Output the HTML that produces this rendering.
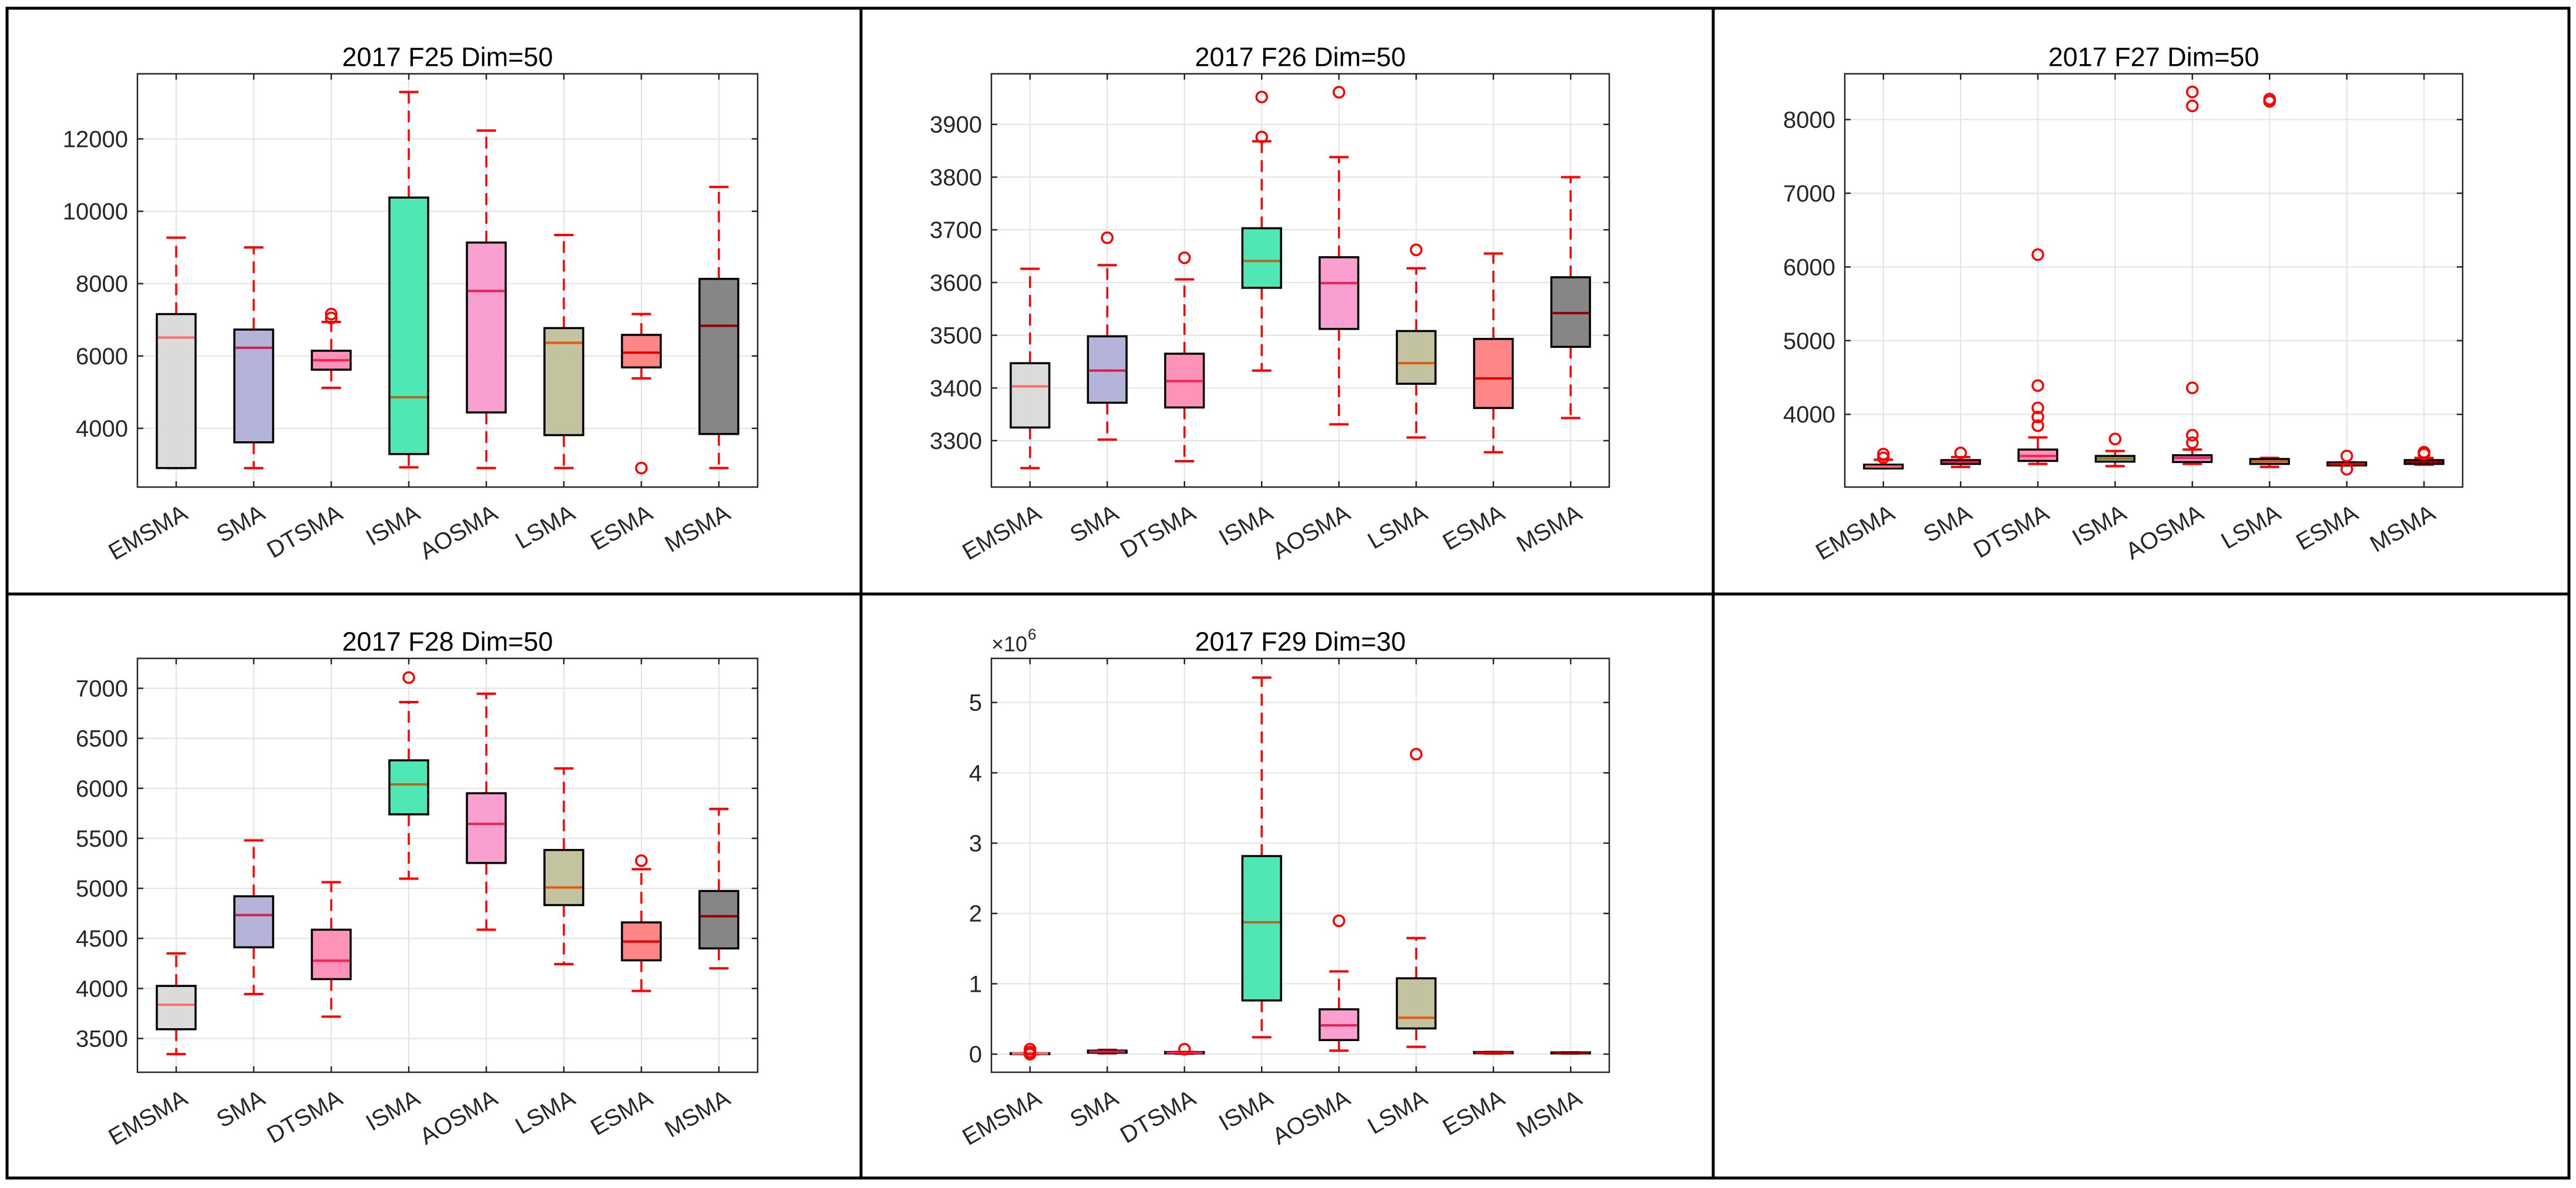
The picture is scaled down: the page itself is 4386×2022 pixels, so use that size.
<!DOCTYPE html>
<html><head><meta charset="utf-8"><style>
html,body{margin:0;padding:0;background:#fff;}
svg{display:block;font-family:"Liberation Sans",Arial,sans-serif;}
</style></head><body>
<svg id="fig" width="4386" height="2022" viewBox="0 0 4386 2022" xmlns="http://www.w3.org/2000/svg">
<rect x="0" y="0" width="4386" height="2022" fill="#fff"/>
<g id="frames" fill="none" stroke="#000" stroke-width="5">
<rect x="12" y="14" width="4362" height="1991"/>
<line x1="1466" y1="14" x2="1466" y2="2005"/>
<line x1="2917" y1="14" x2="2917" y2="2005"/>
<line x1="12" y1="1011" x2="4374" y2="1011"/>
</g>
</svg>
<script>
const categories = ["EMSMA","SMA","DTSMA","ISMA","AOSMA","LSMA","ESMA","MSMA"];
const fillColors = ["#d9d9d9","#b0b0d9","#ff8cb4","#46e6b0","#f99bce","#c0c09a","#ff7f7f","#808080"];
const medianColors = ["#ff6a6a","#d02050","#ff2050","#b06a20","#e8205a","#e05a10","#e00000","#900000"];

// F25
const f25Lo  = [2902,2900,5119,2923,2902,2902,5380,2902];
const f25Q1  = [2902,3613,5621,3289,4439,3812,5684,3843];
const f25Med = [6510,6228,5882,4858,7796,6363,6092,6834];
const f25Q3  = [7158,6730,6144,10379,9135,6771,6583,8131];
const f25Hi  = [9271,9000,6939,13297,12230,9344,7158,10672];
const f25Out = [[],[],[7158,7050],[],[],[],[2902],[]];
const f25Ticks = [4000,6000,8000,10000,12000];
const f25TickLabels = ["4000","6000","8000","10000","12000"];
const f25Lim = [2376,13800];

// F26
const f26Lo  = [3248,3302,3261,3433,3331,3306,3278,3343];
const f26Q1  = [3325,3372,3363,3590,3512,3408,3362,3478];
const f26Med = [3403,3433,3413,3641,3599,3447,3418,3542];
const f26Q3  = [3447,3498,3465,3703,3648,3508,3493,3610];
const f26Hi  = [3626,3633,3606,3868,3838,3627,3655,3800];
const f26Out = [[],[3685],[3647],[3952,3876],[3961],[3662],[],[]];
const f26Ticks = [3300,3400,3500,3600,3700,3800,3900];
const f26TickLabels = ["3300","3400","3500","3600","3700","3800","3900"];
const f26Lim = [3212,3996];

// F27
const f27Lo  = [3266,3286,3327,3297,3327,3286,3307,3317];
const f27Q1  = [3266,3327,3368,3358,3353,3327,3307,3327];
const f27Med = [3291,3353,3435,3399,3409,3363,3327,3353];
const f27Q3  = [3317,3379,3522,3435,3445,3394,3348,3379];
const f27Hi  = [3384,3420,3687,3502,3522,3409,3348,3409];
const f27Out = [[3460,3410],[3476],[6167,4390,4087,3964,3846],[3666],[8375,8185,4359,3718,3615],[8277,8247],[3435,3255],[3486,3460]];
const f27Ticks = [4000,5000,6000,7000,8000];
const f27TickLabels = ["4000","5000","6000","7000","8000"];
const f27Lim = [3013,8621];

// F28
const f28Lo  = [3343,3944,3718,5097,4587,4243,3975,4201];
const f28Q1  = [3592,4411,4093,5740,5254,4833,4281,4400];
const f28Med = [3837,4733,4277,6039,5644,5009,4469,4721];
const f28Q3  = [4025,4921,4587,6280,5951,5384,4660,4974];
const f28Hi  = [4350,5480,5062,6862,6946,6199,5192,5794];
const f28Out = [[],[],[],[7107],[],[],[5277],[]];
const f28Ticks = [3500,4000,4500,5000,5500,6000,6500,7000];
const f28TickLabels = ["3500","4000","4500","5000","5500","6000","6500","7000"];
const f28Lim = [3162,7299];

// F29 (x 1e6)
const f29Lo  = [0.0,0.01,0.005,0.24,0.049,0.103,0.008,0.008];
const f29Q1  = [0.003,0.02,0.01,0.763,0.2,0.365,0.012,0.01];
const f29Med = [0.008,0.035,0.02,1.874,0.409,0.517,0.02,0.017];
const f29Q3  = [0.013,0.05,0.03,2.816,0.637,1.078,0.03,0.025];
const f29Hi  = [0.013,0.06,0.03,5.354,1.176,1.65,0.03,0.025];
const f29Out = [[0.07,0.03,0.0],[],[0.07],[],[1.895],[4.265],[],[]];
const f29Ticks = [0,1,2,3,4,5];
const f29TickLabels = ["0","1","2","3","4","5"];
const f29Lim = [-0.258,5.627];

const panels = [
  {id:"f25",title:"2017 F25 Dim=50",lo:f25Lo,q1:f25Q1,med:f25Med,q3:f25Q3,hi:f25Hi,out:f25Out,ticks:f25Ticks,labels:f25TickLabels,lim:f25Lim,box:[234,125.6,1290,829]},
  {id:"f26",title:"2017 F26 Dim=50",lo:f26Lo,q1:f26Q1,med:f26Med,q3:f26Q3,hi:f26Hi,out:f26Out,ticks:f26Ticks,labels:f26TickLabels,lim:f26Lim,box:[1688,125.6,2740,829]},
  {id:"f27",title:"2017 F27 Dim=50",lo:f27Lo,q1:f27Q1,med:f27Med,q3:f27Q3,hi:f27Hi,out:f27Out,ticks:f27Ticks,labels:f27TickLabels,lim:f27Lim,box:[3141,125.6,4193,829]},
  {id:"f28",title:"2017 F28 Dim=50",lo:f28Lo,q1:f28Q1,med:f28Med,q3:f28Q3,hi:f28Hi,out:f28Out,ticks:f28Ticks,labels:f28TickLabels,lim:f28Lim,box:[234,1120.6,1290,1825]},
  {id:"f29",title:"2017 F29 Dim=30",lo:f29Lo,q1:f29Q1,med:f29Med,q3:f29Q3,hi:f29Hi,out:f29Out,ticks:f29Ticks,labels:f29TickLabels,lim:f29Lim,box:[1688,1120.6,2740,1825],exp:true}
];

const NS = "http://www.w3.org/2000/svg";
const svg = document.getElementById("fig");
function mk(tag, attrs, parent){
  const e = document.createElementNS(NS, tag);
  for (const k in attrs) e.setAttribute(k, attrs[k]);
  parent.appendChild(e);
  return e;
}

panels.forEach(p => {
  const [L,T,R,B] = p.box;
  const n = categories.length;
  const sx = i => L + (i + 0.5) * (R - L) / n;
  const sy = v => B - (v - p.lim[0]) / (p.lim[1] - p.lim[0]) * (B - T);
  const step = (R - L) / n;

  const g = mk("g", {}, svg);
  
  

  p.ticks.forEach((t, k) => {
    const gl = mk("line", {x1:L, x2:R, y1:sy(t), y2:sy(t), stroke:"#e3e3e3", "stroke-width":2}, g);
    
    
  });
  categories.forEach((c, i) => {
    const gl = mk("line", {x1:sx(i), x2:sx(i), y1:T, y2:B, stroke:"#e3e3e3", "stroke-width":2}, g);
    
    
  });

  categories.forEach((c, i) => {
    const x = sx(i);
    const bw = step * 0.5, cw = step * 0.25;
    const bg = mk("g", {}, g);
    
    
    const w1 = mk("line", {x1:x, x2:x, y1:sy(p.q3[i]), y2:sy(p.hi[i]), stroke:"#ff0000", "stroke-width":3.5, "stroke-dasharray":"20 12"}, bg);
    
    
    const w2 = mk("line", {x1:x, x2:x, y1:sy(p.q1[i]), y2:sy(p.lo[i]), stroke:"#ff0000", "stroke-width":3.5, "stroke-dasharray":"20 12"}, bg);
    
    
    const c1 = mk("line", {x1:x-cw/2, x2:x+cw/2, y1:sy(p.hi[i]), y2:sy(p.hi[i]), stroke:"#ff0000", "stroke-width":4}, bg);
    
    
    const c2 = mk("line", {x1:x-cw/2, x2:x+cw/2, y1:sy(p.lo[i]), y2:sy(p.lo[i]), stroke:"#ff0000", "stroke-width":4}, bg);
    
    
    const yt = sy(p.q3[i]), yb = sy(p.q1[i]);
    const r = mk("rect", {x:x-bw/2, y:yt, width:bw, height:Math.max(yb-yt,1.5), fill:fillColors[i], "fill-opacity":0.95, stroke:"#000", "stroke-width":3.5}, bg);
    
    
    const m = mk("line", {x1:x-bw/2+2, x2:x+bw/2-2, y1:sy(p.med[i]), y2:sy(p.med[i]), stroke:medianColors[i], "stroke-width":4}, bg);
    
    
    p.out[i].forEach(v => {
      const o = mk("circle", {cx:x, cy:sy(v), r:9, fill:"none", stroke:"#ff0000", "stroke-width":3.5}, bg);
      
      
    });
  });

  const fr = mk("rect", {x:L, y:T, width:R-L, height:B-T, fill:"none", stroke:"#262626", "stroke-width":2.5}, g);
  
  

  p.ticks.forEach((t, k) => {
    const y = sy(t);
    const tk = mk("path", {d:`M${L},${y}h10M${R},${y}h-10`, stroke:"#262626", "stroke-width":2.5}, g);
    
    
    const tl = mk("text", {x:L-16, y:y+14, "text-anchor":"end", "font-size":40, fill:"#262626"}, g);
    tl.textContent = p.labels[k];
    
    
  });

  categories.forEach((c, i) => {
    const x = sx(i);
    const tk = mk("path", {d:`M${x},${B}v-10M${x},${T}v10`, stroke:"#262626", "stroke-width":2.5}, g);
    
    
    const ax = x + 22, ay = B + 52;
    const xl = mk("text", {x:ax, y:ay, "text-anchor":"end", "font-size":40, fill:"#262626", transform:`rotate(-30 ${ax} ${ay})`}, g);
    xl.textContent = c;
    
    
  });

  const tt = mk("text", {x:(L+R)/2, y:T-13, "text-anchor":"middle", "font-size":45, fill:"#000"}, g);
  tt.textContent = p.title;
  
  

  if (p.exp) {
    const ex = mk("text", {x:L, y:T-12, "font-size":36, fill:"#262626"}, g);
    ex.textContent = "×10";
    
    
    const sup = mk("text", {x:L+62, y:T-32, "font-size":26, fill:"#262626"}, g);
    sup.textContent = "6";
    
    
  }
});
</script>
</body></html>
